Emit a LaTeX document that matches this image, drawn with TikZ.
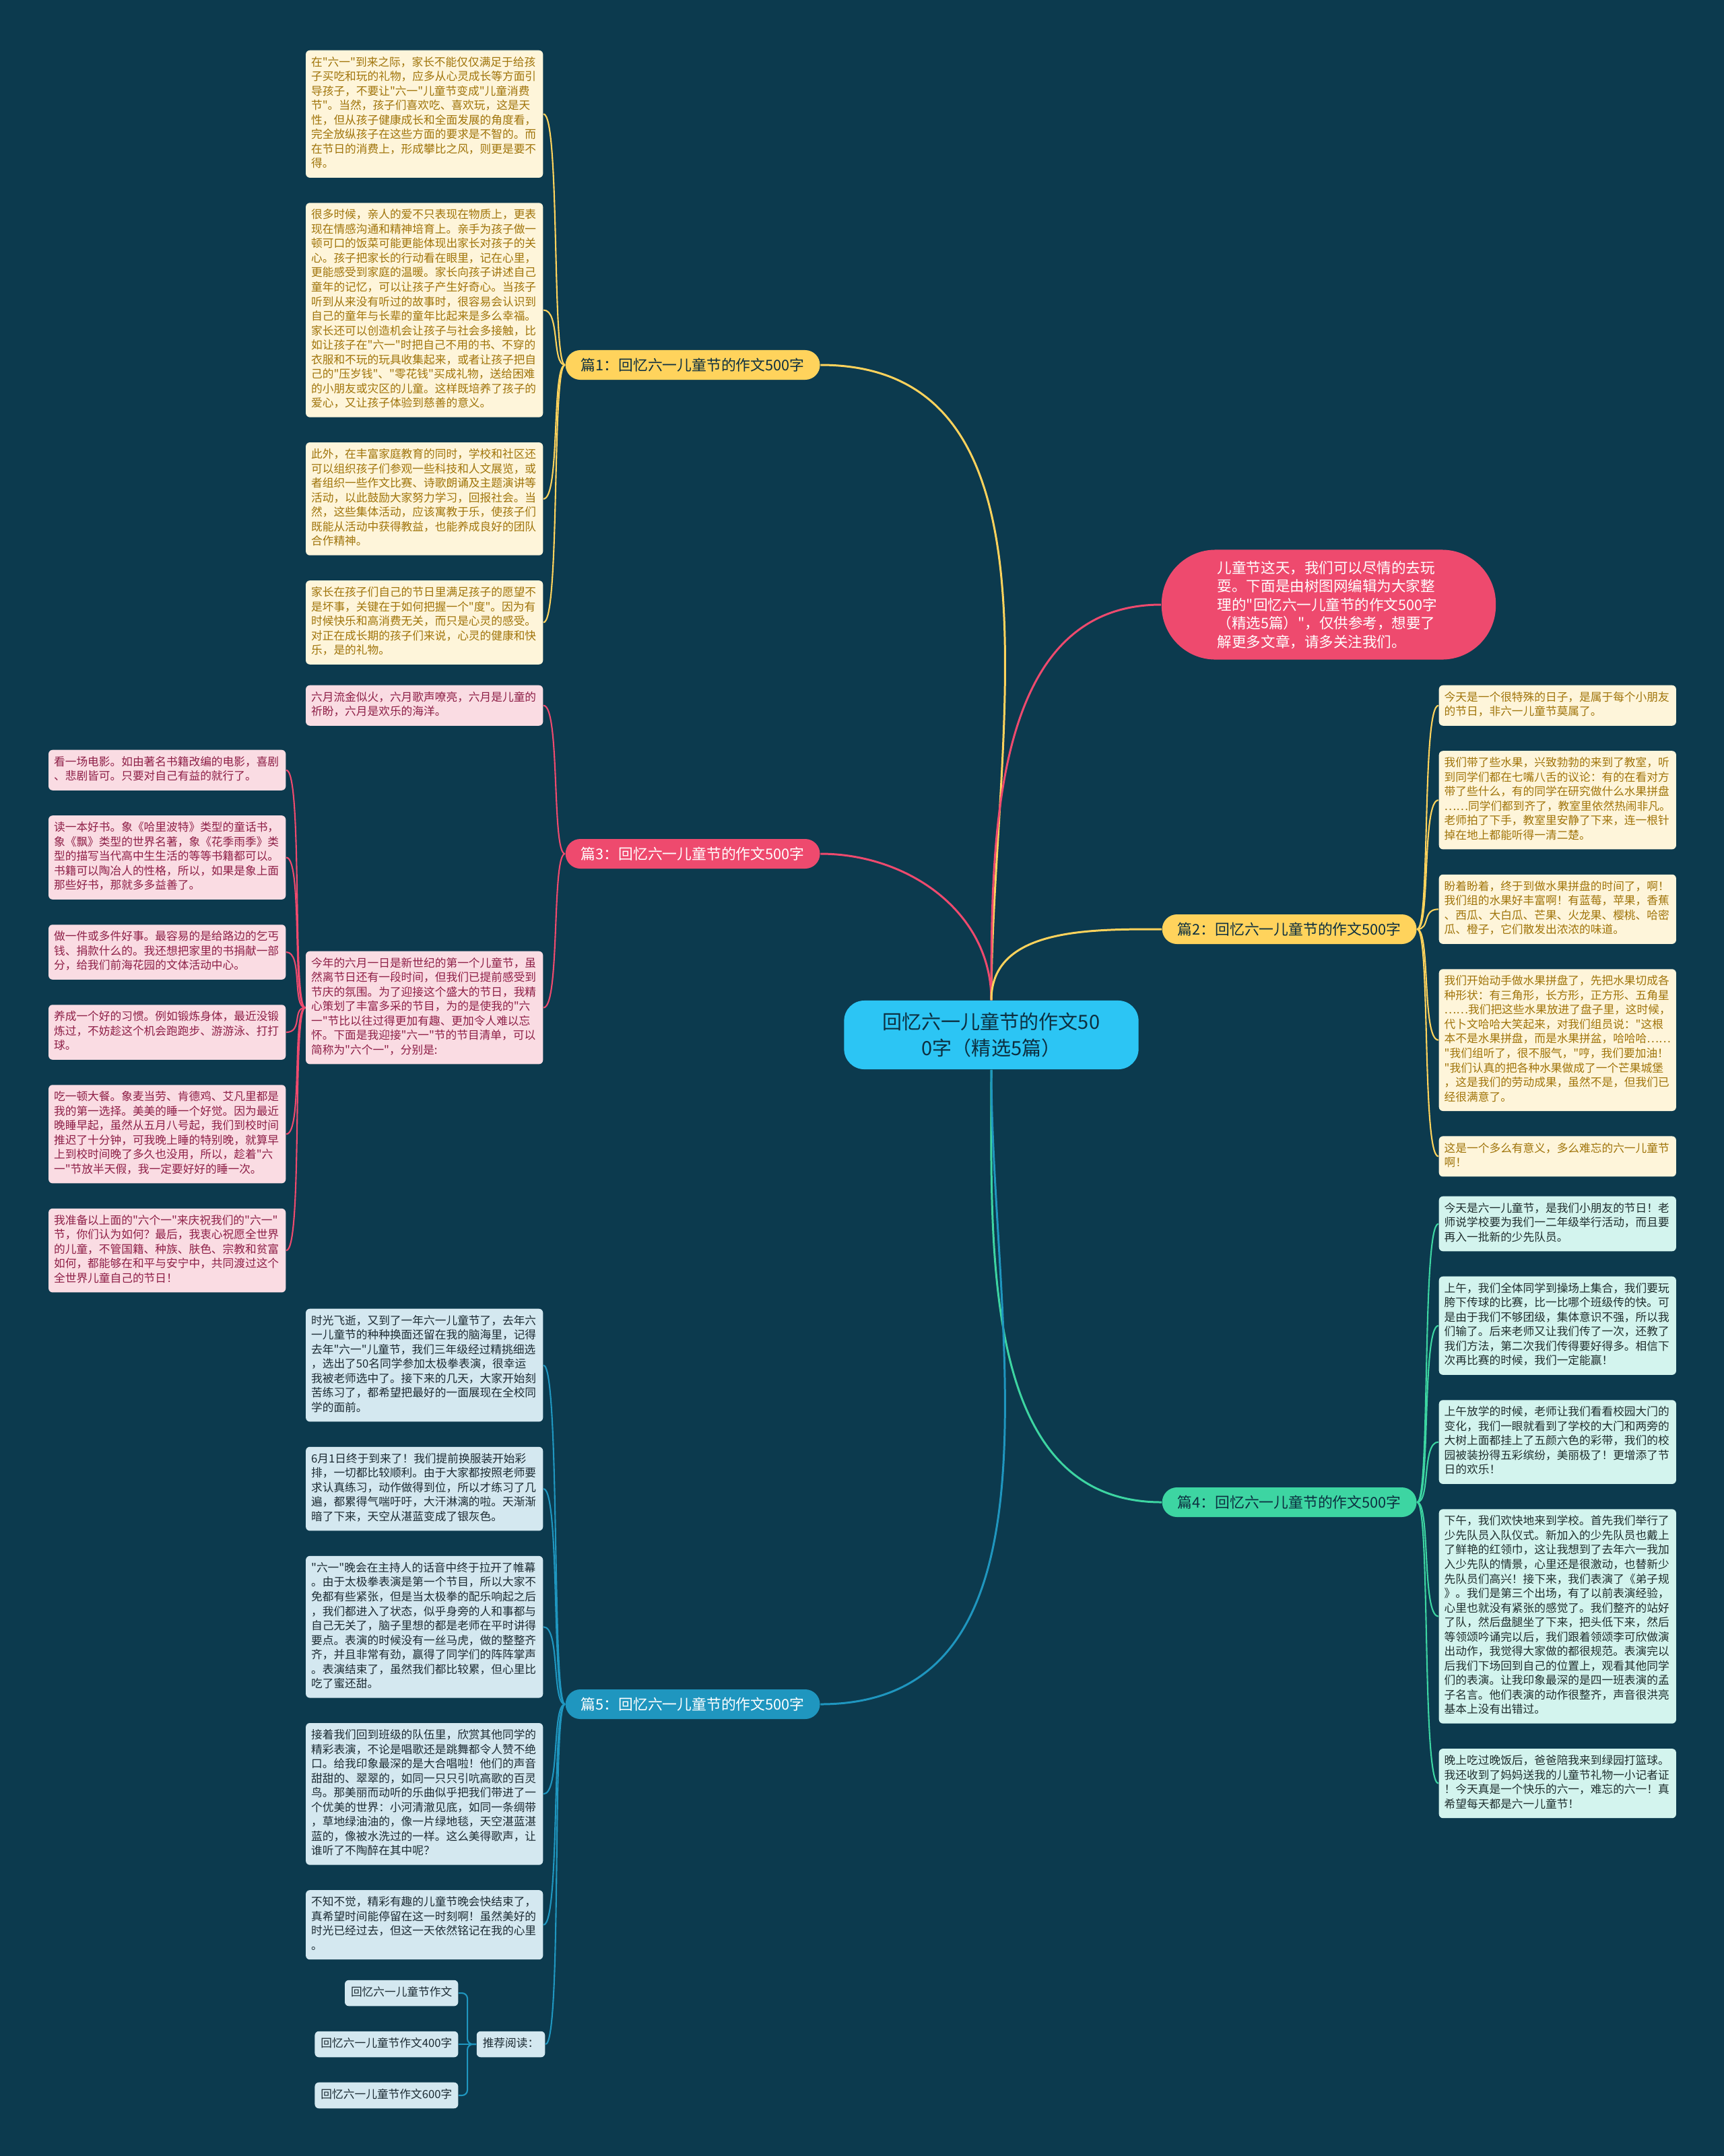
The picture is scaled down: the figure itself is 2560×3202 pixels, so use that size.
\documentclass[tikz,border=0pt]{standalone}
\usepackage{fontspec}
\setmainfont{Noto Sans CJK SC}[Ligatures=TeXOff]
\usepackage{tikz}
\usetikzlibrary{positioning}
\definecolor{bgcol}{HTML}{0C3A4E}
\definecolor{ctrcol}{HTML}{2CC5F4}
\definecolor{ctrtxt}{HTML}{0C2F40}
\definecolor{pinkc}{HTML}{EE4A6E}
\definecolor{yellowc}{HTML}{FFD35C}
\definecolor{greenc}{HTML}{3DD5A2}
\definecolor{bluec}{HTML}{1F96BF}
\definecolor{yfill}{HTML}{FEF5DA}
\definecolor{ytxt}{HTML}{A0740A}
\definecolor{pfill}{HTML}{FADCE3}
\definecolor{ptxt}{HTML}{8E1F47}
\definecolor{gfill}{HTML}{D3F4EE}
\definecolor{gtxt}{HTML}{1F2E2E}
\definecolor{bfill}{HTML}{D4E8F0}
\definecolor{btxt}{HTML}{1C2B33}
\newcommand{\leaffont}{\fontsize{4.75pt}{6.12pt}\selectfont}

\begin{document}
\begin{tikzpicture}[
  x=0.01cm, y=-0.01cm,
  node distance=0.36cm,
  leaf/.style={
    rounded corners=0.06cm, text width=3.36cm, inner xsep=0.08cm,
    inner ysep=0.085cm, align=left, font=\leaffont,
    execute at begin node=\strut, execute at end node=\strut
  },
  ybox/.style={leaf, fill=yfill, text=ytxt},
  pbox/.style={leaf, fill=pfill, text=ptxt},
  gbox/.style={leaf, fill=gfill, text=gtxt},
  bbox/.style={leaf, fill=bfill, text=btxt},
  recbox/.style={
    rounded corners=0.06cm, fill=bfill, text=btxt, inner xsep=0.09cm,
    inner ysep=0.085cm, font=\leaffont,
    execute at begin node=\strut, execute at end node=\strut
  },
  pill/.style={
    rounded corners=0.22cm, minimum height=0.44cm, inner xsep=0.23cm,
    inner ysep=0pt, anchor=west, font=\fontsize{6.2pt}{7pt}\selectfont
  },
  link/.style={line width=0.6pt},
  ylink/.style={link, draw=yellowc},
  plink/.style={link, draw=pinkc},
  glink/.style={link, draw=greenc},
  blink/.style={link, draw=bluec},
  mainlink/.style={line width=0.85pt}
]
  \useasboundingbox (0,0) rectangle (2560,3202);
  \fill[bgcol] (0,0) rectangle (2560,3202);

  % centre and intro
  \node[fill=ctrcol, text=ctrtxt, rounded corners=0.3cm, minimum width=4.37cm,
    minimum height=1.02cm, align=center,
    font=\fontsize{8.25pt}{11.1pt}\selectfont] (ctr) at (1472,1537)
    {回忆六一儿童节的作文50\\0字（精选5篇）};
  \node[fill=pinkc, text=white, rounded corners=0.8cm, minimum width=4.96cm,
    minimum height=1.63cm, text width=3.3cm, align=left,
    font=\fontsize{6.12pt}{7.82pt}\selectfont] (intro) at (1973,898)
    {儿童节这天，我们可以尽情的去玩\\耍。下面是由树图网编辑为大家整\\理的"回忆六一儿童节的作文500字\\（精选5篇）"，仅供参考，想要了\\解更多文章，请多关注我们。};

  % branches
  \node[pill, fill=yellowc, text=ctrtxt] (art1) at (839,542) {篇1：回忆六一儿童节的作文500字};
  \node[pill, fill=pinkc, text=white] (art3) at (839,1268) {篇3：回忆六一儿童节的作文500字};
  \node[pill, fill=bluec, text=white] (art5) at (839,2531) {篇5：回忆六一儿童节的作文500字};
  \node[pill, fill=yellowc, text=ctrtxt] (art2) at (1725,1380) {篇2：回忆六一儿童节的作文500字};
  \node[pill, fill=greenc, text=ctrtxt] (art4) at (1725,2231) {篇4：回忆六一儿童节的作文500字};

  % 篇1
  \node[ybox, anchor=north east] (buy) at (807,74) {在"六一"到来之际，家长不能仅仅满足于给孩\\子买吃和玩的礼物，应多从心灵成长等方面引\\导孩子，不要让"六一"儿童节变成"儿童消费\\节"。当然，孩子们喜欢吃、喜欢玩，这是天\\性，但从孩子健康成长和全面发展的角度看，\\完全放纵孩子在这些方面的要求是不智的。而\\在节日的消费上，形成攀比之风，则更是要不\\得。};
  \node[ybox, below=of buy] (love) {很多时候，亲人的爱不只表现在物质上，更表\\现在情感沟通和精神培育上。亲手为孩子做一\\顿可口的饭菜可能更能体现出家长对孩子的关\\心。孩子把家长的行动看在眼里，记在心里，\\更能感受到家庭的温暖。家长向孩子讲述自己\\童年的记忆，可以让孩子产生好奇心。当孩子\\听到从来没有听过的故事时，很容易会认识到\\自己的童年与长辈的童年比起来是多么幸福。\\家长还可以创造机会让孩子与社会多接触，比\\如让孩子在"六一"时把自己不用的书、不穿的\\衣服和不玩的玩具收集起来，或者让孩子把自\\己的"压岁钱"、"零花钱"买成礼物，送给困难\\的小朋友或灾区的儿童。这样既培养了孩子的\\爱心，又让孩子体验到慈善的意义。};
  \node[ybox, below=of love] (visit) {此外，在丰富家庭教育的同时，学校和社区还\\可以组织孩子们参观一些科技和人文展览，或\\者组织一些作文比赛、诗歌朗诵及主题演讲等\\活动，以此鼓励大家努力学习，回报社会。当\\然，这些集体活动，应该寓教于乐，使孩子们\\既能从活动中获得教益，也能养成良好的团队\\合作精神。};
  \node[ybox, below=of visit] (degree) {家长在孩子们自己的节日里满足孩子的愿望不\\是坏事，关键在于如何把握一个"度"。因为有\\时候快乐和高消费无关，而只是心灵的感受。\\对正在成长期的孩子们来说，心灵的健康和快\\乐，是的礼物。};

  % 篇3
  \node[pbox, anchor=north east] (june) at (807,1017) {六月流金似火，六月歌声嘹亮，六月是儿童的\\祈盼，六月是欢乐的海洋。};
  \node[pbox, anchor=north east] (plan) at (807,1412) {今年的六月一日是新世纪的第一个儿童节，虽\\然离节日还有一段时间，但我们已提前感受到\\节庆的氛围。为了迎接这个盛大的节日，我精\\心策划了丰富多采的节目，为的是使我的"六\\一"节比以往过得更加有趣、更加令人难以忘\\怀。下面是我迎接"六一"节的节目清单，可以\\简称为"六个一"，分别是:};
  \node[pbox, anchor=north east] (movie) at (425,1113) {看一场电影。如由著名书籍改编的电影，喜剧\\、悲剧皆可。只要对自己有益的就行了。};
  \node[pbox, below=of movie] (book) {读一本好书。象《哈里波特》类型的童话书，\\象《飘》类型的世界名著，象《花季雨季》类\\型的描写当代高中生生活的等等书籍都可以。\\书籍可以陶冶人的性格，所以，如果是象上面\\那些好书，那就多多益善了。};
  \node[pbox, below=of book] (deed) {做一件或多件好事。最容易的是给路边的乞丐\\钱、捐款什么的。我还想把家里的书捐献一部\\分，给我们前海花园的文体活动中心。};
  \node[pbox, below=of deed] (habit) {养成一个好的习惯。例如锻炼身体，最近没锻\\炼过，不妨趁这个机会跑跑步、游游泳、打打\\球。};
  \node[pbox, below=of habit] (meal) {吃一顿大餐。象麦当劳、肯德鸡、艾凡里都是\\我的第一选择。美美的睡一个好觉。因为最近\\晚睡早起，虽然从五月八号起，我们到校时间\\推迟了十分钟，可我晚上睡的特别晚，就算早\\上到校时间晚了多久也没用，所以，趁着"六\\一"节放半天假，我一定要好好的睡一次。};
  \node[pbox, below=of meal] (wish) {我准备以上面的"六个一"来庆祝我们的"六一"\\节，你们认为如何？最后，我衷心祝愿全世界\\的儿童，不管国籍、种族、肤色、宗教和贫富\\如何，都能够在和平与安宁中，共同渡过这个\\全世界儿童自己的节日！};

  % 篇2
  \node[ybox, anchor=north west] (day) at (2136,1017) {今天是一个很特殊的日子，是属于每个小朋友\\的节日，非六一儿童节莫属了。};
  \node[ybox, below=of day] (fruit) {我们带了些水果，兴致勃勃的来到了教室，听\\到同学们都在七嘴八舌的议论：有的在看对方\\带了些什么，有的同学在研究做什么水果拼盘\\……同学们都到齐了，教室里依然热闹非凡。\\老师拍了下手，教室里安静了下来，连一根针\\掉在地上都能听得一清二楚。};
  \node[ybox, below=of fruit] (wait) {盼着盼着，终于到做水果拼盘的时间了，啊！\\我们组的水果好丰富啊！有蓝莓，苹果，香蕉\\、西瓜、大白瓜、芒果、火龙果、樱桃、哈密\\瓜、橙子，它们散发出浓浓的味道。};
  \node[ybox, below=of wait] (platter) {我们开始动手做水果拼盘了，先把水果切成各\\种形状：有三角形，长方形，正方形、五角星\\……我们把这些水果放进了盘子里，这时候，\\代卜文哈哈大笑起来，对我们组员说："这根\\本不是水果拼盘，而是水果拼盆，哈哈哈……\\"我们组听了，很不服气，"哼，我们要加油！\\"我们认真的把各种水果做成了一个芒果城堡\\，这是我们的劳动成果，虽然不是，但我们已\\经很满意了。};
  \node[ybox, below=of platter] (mean) {这是一个多么有意义，多么难忘的六一儿童节\\啊！};

  % 篇4
  \node[gbox, anchor=north west] (today) at (2136,1776) {今天是六一儿童节，是我们小朋友的节日！老\\师说学校要为我们一二年级举行活动，而且要\\再入一批新的少先队员。};
  \node[gbox, below=of today] (relay) {上午，我们全体同学到操场上集合，我们要玩\\胯下传球的比赛，比一比哪个班级传的快。可\\是由于我们不够团级，集体意识不强，所以我\\们输了。后来老师又让我们传了一次，还教了\\我们方法，第二次我们传得要好得多。相信下\\次再比赛的时候，我们一定能赢！};
  \node[gbox, below=of relay] (gate) {上午放学的时候，老师让我们看看校园大门的\\变化，我们一眼就看到了学校的大门和两旁的\\大树上面都挂上了五颜六色的彩带，我们的校\\园被装扮得五彩缤纷，美丽极了！更增添了节\\日的欢乐！};
  \node[gbox, below=of gate] (show) {下午，我们欢快地来到学校。首先我们举行了\\少先队员入队仪式。新加入的少先队员也戴上\\了鲜艳的红领巾，这让我想到了去年六一我加\\入少先队的情景，心里还是很激动，也替新少\\先队员们高兴！接下来，我们表演了《弟子规\\》。我们是第三个出场，有了以前表演经验，\\心里也就没有紧张的感觉了。我们整齐的站好\\了队，然后盘腿坐了下来，把头低下来，然后\\等领颂吟诵完以后，我们跟着领颂李可欣做演\\出动作，我觉得大家做的都很规范。表演完以\\后我们下场回到自己的位置上，观看其他同学\\们的表演。让我印象最深的是四一班表演的孟\\子名言。他们表演的动作很整齐，声音很洪亮\\基本上没有出错过。};
  \node[gbox, below=of show] (night) {晚上吃过晚饭后，爸爸陪我来到绿园打篮球。\\我还收到了妈妈送我的儿童节礼物一小记者证\\！今天真是一个快乐的六一，难忘的六一！真\\希望每天都是六一儿童节！};

  % 篇5
  \node[bbox, anchor=north east] (taichi) at (807,1943) {时光飞逝，又到了一年六一儿童节了，去年六\\一儿童节的种种换面还留在我的脑海里，记得\\去年"六一"儿童节，我们三年级经过精挑细选\\，选出了50名同学参加太极拳表演，很幸运\\我被老师选中了。接下来的几天，大家开始刻\\苦练习了，都希望把最好的一面展现在全校同\\学的面前。};
  \node[bbox, below=of taichi] (rehearse) {6月1日终于到来了！我们提前换服装开始彩\\排，一切都比较顺利。由于大家都按照老师要\\求认真练习，动作做得到位，所以才练习了几\\遍，都累得气喘吁吁，大汗淋漓的啦。天渐渐\\暗了下来，天空从湛蓝变成了银灰色。};
  \node[bbox, below=of rehearse] (gala) {"六一"晚会在主持人的话音中终于拉开了帷幕\\。由于太极拳表演是第一个节目，所以大家不\\免都有些紧张，但是当太极拳的配乐响起之后\\，我们都进入了状态，似乎身旁的人和事都与\\自己无关了，脑子里想的都是老师在平时讲得\\要点。表演的时候没有一丝马虎，做的整整齐\\齐，并且非常有劲，赢得了同学们的阵阵掌声\\。表演结束了，虽然我们都比较累，但心里比\\吃了蜜还甜。};
  \node[bbox, below=of gala] (chorus) {接着我们回到班级的队伍里，欣赏其他同学的\\精彩表演，不论是唱歌还是跳舞都令人赞不绝\\口。给我印象最深的是大合唱啦！他们的声音\\甜甜的、翠翠的，如同一只只引吭高歌的百灵\\鸟。那美丽而动听的乐曲似乎把我们带进了一\\个优美的世界：小河清澈见底，如同一条绸带\\，草地绿油油的，像一片绿地毯，天空湛蓝湛\\蓝的，像被水洗过的一样。这么美得歌声，让\\谁听了不陶醉在其中呢？};
  \node[bbox, below=of chorus] (over) {不知不觉，精彩有趣的儿童节晚会快结束了，\\真希望时间能停留在这一时刻啊！虽然美好的\\时光已经过去，但这一天依然铭记在我的心里\\。};
  \node[recbox, anchor=east] (rec) at (810,3036) {推荐阅读：};
  \node[recbox, left=0.26cm of rec] (rec2) {回忆六一儿童节作文400字};
  \node[recbox, above=0.36cm of rec2.north east, anchor=south east] (rec1) {回忆六一儿童节作文};
  \node[recbox, below=0.36cm of rec2.south east, anchor=north east] (rec3) {回忆六一儿童节作文600字};

  % centre links
  \draw[ylink, mainlink] (ctr.north) to[out=90,in=0] (art1.east);
  \draw[plink, mainlink] (ctr.north) to[out=90,in=180] (intro.west);
  \draw[plink, mainlink] (ctr.north) to[out=90,in=0] (art3.east);
  \draw[ylink, mainlink] (ctr.north) to[out=90,in=180] (art2.west);
  \draw[glink, mainlink] (ctr.south) to[out=-90,in=180] (art4.west);
  \draw[blink, mainlink] (ctr.south) to[out=-90,in=0] (art5.east);

  % leaf links
  \draw[ylink] (art1.west) .. controls +(-20,0) and +(25,0) .. (buy.east);
  \draw[ylink] (art1.west) .. controls +(-20,0) and +(25,0) .. (love.east);
  \draw[ylink] (art1.west) .. controls +(-20,0) and +(25,0) .. (visit.east);
  \draw[ylink] (art1.west) .. controls +(-20,0) and +(25,0) .. (degree.east);
  \draw[plink] (art3.west) .. controls +(-20,0) and +(25,0) .. (june.east);
  \draw[plink] (art3.west) .. controls +(-20,0) and +(25,0) .. (plan.east);
  \draw[plink] (plan.west) .. controls +(-20,0) and +(25,0) .. (movie.east);
  \draw[plink] (plan.west) .. controls +(-20,0) and +(25,0) .. (book.east);
  \draw[plink] (plan.west) .. controls +(-20,0) and +(25,0) .. (deed.east);
  \draw[plink] (plan.west) .. controls +(-20,0) and +(25,0) .. (habit.east);
  \draw[plink] (plan.west) .. controls +(-20,0) and +(25,0) .. (meal.east);
  \draw[plink] (plan.west) .. controls +(-20,0) and +(25,0) .. (wish.east);
  \draw[ylink] (art2.east) .. controls +(20,0) and +(-25,0) .. (day.west);
  \draw[ylink] (art2.east) .. controls +(20,0) and +(-25,0) .. (fruit.west);
  \draw[ylink] (art2.east) .. controls +(20,0) and +(-25,0) .. (wait.west);
  \draw[ylink] (art2.east) .. controls +(20,0) and +(-25,0) .. (platter.west);
  \draw[ylink] (art2.east) .. controls +(20,0) and +(-25,0) .. (mean.west);
  \draw[glink] (art4.east) .. controls +(20,0) and +(-25,0) .. (today.west);
  \draw[glink] (art4.east) .. controls +(20,0) and +(-25,0) .. (relay.west);
  \draw[glink] (art4.east) .. controls +(20,0) and +(-25,0) .. (gate.west);
  \draw[glink] (art4.east) .. controls +(20,0) and +(-25,0) .. (show.west);
  \draw[glink] (art4.east) .. controls +(20,0) and +(-25,0) .. (night.west);
  \draw[blink] (art5.west) .. controls +(-20,0) and +(25,0) .. (taichi.east);
  \draw[blink] (art5.west) .. controls +(-20,0) and +(25,0) .. (rehearse.east);
  \draw[blink] (art5.west) .. controls +(-20,0) and +(25,0) .. (gala.east);
  \draw[blink] (art5.west) .. controls +(-20,0) and +(25,0) .. (chorus.east);
  \draw[blink] (art5.west) .. controls +(-20,0) and +(25,0) .. (over.east);
  \draw[blink] (art5.west) .. controls +(-20,0) and +(25,0) .. (rec.east);
  \draw[blink, rounded corners=0.08cm] (rec.west) -- ++(-13,0) |- (rec1.east);
  \draw[blink] (rec.west) -- (rec2.east);
  \draw[blink, rounded corners=0.08cm] (rec.west) -- ++(-13,0) |- (rec3.east);
\end{tikzpicture}
\end{document}
